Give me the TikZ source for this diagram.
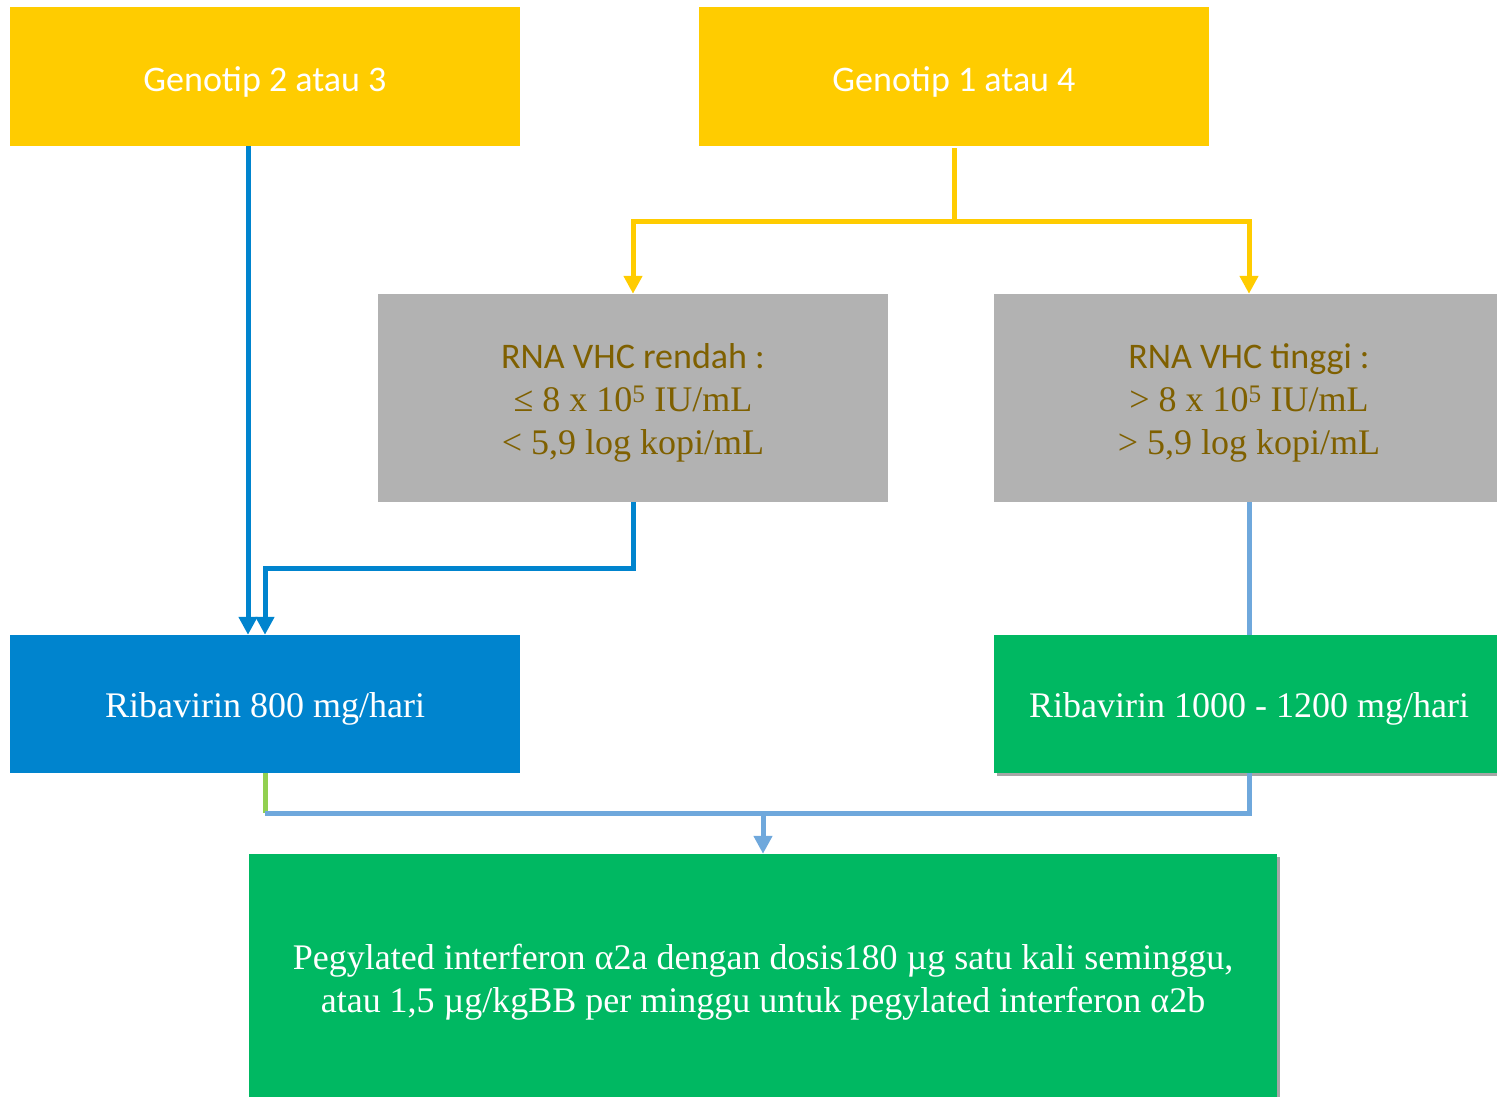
\documentclass[tikz,border=0pt]{standalone}
\usepackage{fontspec}
\setmainfont{Liberation Serif}
\newfontfamily\calibrifont{Carlito}
\usetikzlibrary{arrows.meta,shadows}
\definecolor{ylw}{HTML}{FFCC00}
\definecolor{gry}{HTML}{B2B2B2}
\definecolor{goldtxt}{HTML}{7F6000}
\definecolor{blu}{HTML}{0084CE}
\definecolor{grn}{HTML}{00B862}
\definecolor{lblu}{HTML}{6FA8DC}
\definecolor{lgrn}{HTML}{92D050}
\begin{document}
\begin{tikzpicture}[x=1pt,y=-1pt,
  box/.style={rectangle, inner sep=0pt, minimum width=510pt},
  txt/.style={inner sep=0pt, align=center, font=\fontsize{36}{43}\selectfont},
  hdrbox/.style={box, fill=ylw, minimum height=139pt},
  hdrtxt/.style={txt, text=white, font=\fontsize{36}{43}\selectfont\calibrifont},
  graybox/.style={box, fill=gry, minimum height=208pt},
  graytxt/.style={txt, text=goldtxt},
  whitetxt/.style={txt, text=white},
  shad/.style={drop shadow={shadow xshift=3pt, shadow yshift=-3pt, opacity=0.35, fill=black}},
  conn/.style={line width=5pt},
  arr/.style={-{Triangle[width=18pt,length=18pt]}}
]
\useasboundingbox (0,0) rectangle (1497,1097);
\clip (0,0) rectangle (1497,1097);

\node[hdrbox] (g23) at (265,76.5) {};
\node[hdrtxt] (g23t) at ([yshift=-5pt]g23.center) {Genotip 2 atau 3};
\node[hdrbox] (g14) at (954,76.5) {};
\node[hdrtxt] (g14t) at ([yshift=-5pt]g14.center) {Genotip 1 atau 4};

\node[graybox] (low) at (633,398) {};
\node[graytxt] (lowt) at ([yshift=-5pt]low.center) {{\calibrifont RNA VHC rendah :}\\≤ 8 x 10\textsuperscript{5} IU/mL\\< 5,9 log kopi/mL};
\node[graybox] (high) at (1249,398) {};
\node[graytxt] (hight) at ([yshift=-5pt]high.center) {{\calibrifont RNA VHC tinggi :}\\> 8 x 10\textsuperscript{5} IU/mL\\> 5,9 log kopi/mL};

\node[box, fill=blu, minimum height=138pt] (rib8) at (265,704) {};
\node[whitetxt] (rib8t) at ([yshift=-5pt]rib8.center) {Ribavirin 800 mg/hari};
\node[box, fill=grn, minimum height=138pt, shad] (rib12) at (1249,704) {};
\node[whitetxt] (rib12t) at ([yshift=-5pt]rib12.center) {Ribavirin 1000 - 1200 mg/hari};

\node[box, fill=grn, minimum width=1028pt, minimum height=248pt, shad] (peg) at (763,978) {};
\node[whitetxt] (pegt) at ([yshift=-4pt]peg.center)
  {Pegylated interferon α2a dengan dosis180 µg satu kali seminggu,\\atau 1,5 µg/kgBB per minggu untuk pegylated interferon α2b};

% yellow connectors
\coordinate (yj) at (954,221);
\draw[conn, ylw] ([yshift=-2pt]g14.south) -- (yj);
\draw[conn, ylw, arr] (yj) -| (low.north);
\draw[conn, ylw, arr] (yj) -| (high.north);

% blue connectors
\draw[conn, blu, arr] ([xshift=-17pt]g23.south) -- ([xshift=-17pt]rib8.north);
\draw[conn, blu, arr] (low.south) -- ++(0,66) -| (rib8.north);

% light blue connectors
\coordinate (hj) at (265,813);
\coordinate (mj) at (763,813);
\draw[conn, lblu] (high.south) -- (rib12.north);
\draw[conn, lgrn] (rib8.south) -- (hj);
\draw[conn, lblu] (rib12.south) |- (hj);
\draw[conn, lblu, arr] (mj) -- (peg.north);
\end{tikzpicture}
\end{document}
